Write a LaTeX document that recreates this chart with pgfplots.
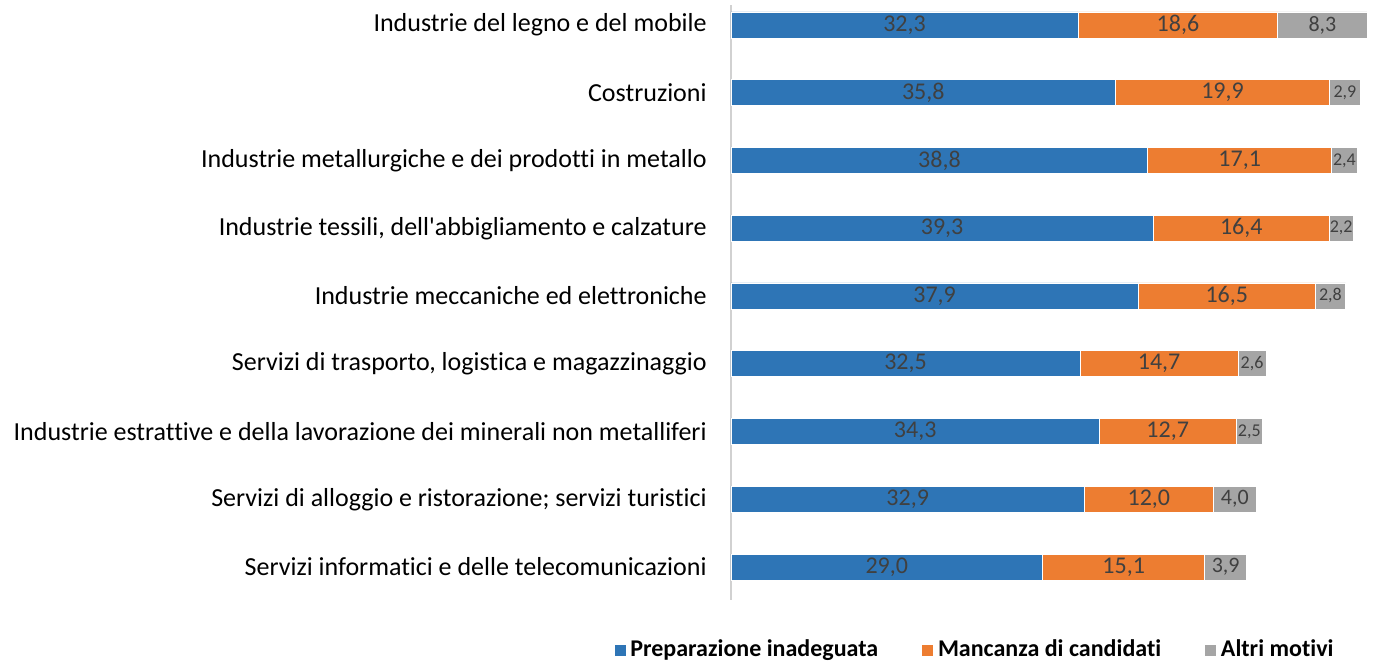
\documentclass[border=0pt]{standalone}
\usepackage{fontspec}
\setmainfont{Carlito}[Ligatures=NoCommon]
\usepackage{pgfplots}
\pgfplotsset{compat=1.18}
\definecolor{cblue}{HTML}{2E75B6}
\definecolor{corange}{HTML}{ED7D31}
\definecolor{cgray}{HTML}{A5A5A5}
\definecolor{lbl}{HTML}{404040}
\begin{document}
\begin{tikzpicture}
\useasboundingbox (-365.5pt,-32pt) rectangle (322.5pt,300pt);
\begin{axis}[
  at={(0,0)}, anchor=south west,
  scale only axis,
  xbar stacked,
  x=5.3716pt, height=297.5pt,
  xmin=0, xmax=59.2,
  ymin=-0.487, ymax=8.295,
  bar width=13pt,
  axis x line=none,
  axis y line*=left,
  y axis line style={draw=black!18, line width=0.6pt},
  ytick={0,...,8},
  yticklabels={Servizi informatici e delle telecomunicazioni,
    Servizi di alloggio e ristorazione; servizi turistici,
    Industrie estrattive e della lavorazione dei minerali non metalliferi,
    {Servizi di trasporto, logistica e magazzinaggio},
    Industrie meccaniche ed elettroniche,
    {Industrie tessili, dell\textquotesingle abbigliamento e calzature},
    Industrie metallurgiche e dei prodotti in metallo,
    Costruzioni,
    Industrie del legno e del mobile},
  ytick style={draw=none},
  yticklabel style={font=\fontsize{13}{15}\selectfont, inner sep=0pt, xshift=-12pt},
  visualization depends on={rawx \as \rawx},
  nodes near coords={\pgfmathprintnumber[fixed,fixed zerofill,precision=1,use comma,assume math mode=true]{\rawx}},
  every node near coord/.append style={anchor=center, text=lbl, font=\fontsize{12}{14}\selectfont},
  legend style={draw=none, at={(axis description cs:0.3845,0)}, anchor=center, yshift=-25pt,
    legend columns=3, font=\bfseries\fontsize{12}{14}\selectfont,
    /tikz/every even column/.append style={column sep=19.5pt}},
  legend image code/.code={\fill[#1] (0pt,-3pt) rectangle (6pt,3pt);},
]
\addplot[fill=cblue, draw=white, line width=0.4pt] coordinates {
  (29.0,0) (32.9,1) (34.3,2) (32.5,3) (37.9,4) (39.3,5) (38.8,6) (35.8,7) (32.3,8)};
\addplot[fill=corange, draw=white, line width=0.4pt] coordinates {
  (15.1,0) (12.0,1) (12.7,2) (14.7,3) (16.5,4) (16.4,5) (17.1,6) (19.9,7) (18.6,8)};
\addplot[fill=cgray, draw=white, line width=0.4pt,
  every node near coord/.append style={font=\fontsize{\ifdim\rawx pt<3pt 9\else 11\fi}{12}\selectfont}] coordinates {
  (3.9,0) (4.0,1) (2.5,2) (2.6,3) (2.8,4) (2.2,5) (2.4,6) (2.9,7) (8.3,8)};
\legend{Preparazione inadeguata, Mancanza di candidati, Altri motivi}
\end{axis}
\end{tikzpicture}
\end{document}
